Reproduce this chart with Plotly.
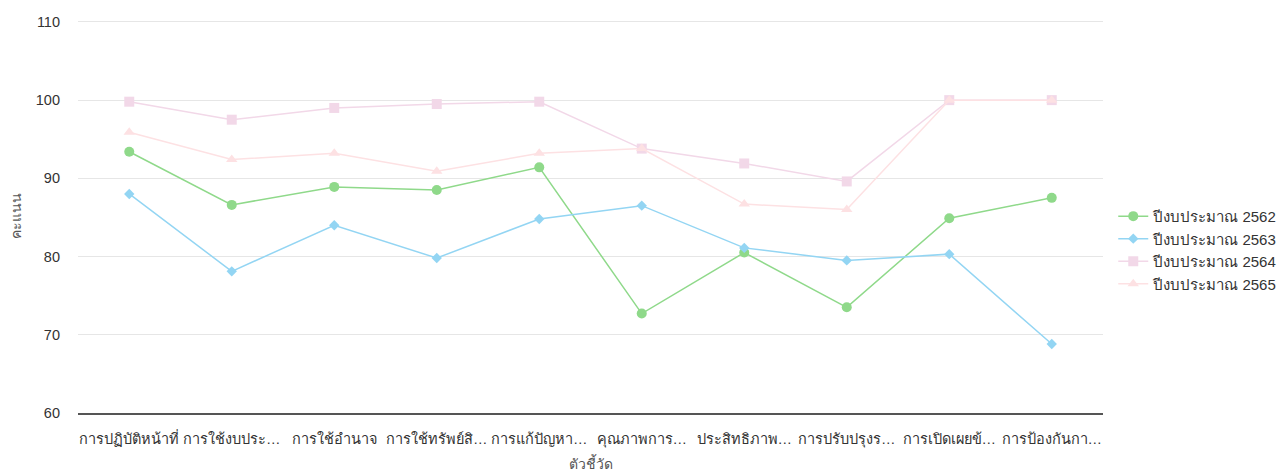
import plotly.graph_objects as go

categories = ["การปฏิบัติหน้าที่", "การใช้งบประ…", "การใช้อำนาจ", "การใช้ทรัพย์สิ…", "การแก้ปัญหา…",
              "คุณภาพการ…", "ประสิทธิภาพ…", "การปรับปรุงร…", "การเปิดเผยข้…", "การป้องกันกา…"]
s2562 = [93.4, 86.6, 88.9, 88.5, 91.4, 72.7, 80.5, 73.5, 84.9, 87.5]
s2563 = [88.0, 78.1, 84.0, 79.8, 84.8, 86.5, 81.1, 79.5, 80.3, 68.8]
s2564 = [99.8, 97.5, 99.0, 99.5, 99.8, 93.8, 91.9, 89.6, 100.0, 100.0]
s2565 = [95.9, 92.4, 93.2, 90.9, 93.2, 93.8, 86.7, 86.0, 100.0, 100.0]
series_names = ["ปีงบประมาณ 2562", "ปีงบประมาณ 2563", "ปีงบประมาณ 2564", "ปีงบประมาณ 2565"]
y_ticks = [60, 70, 80, 90, 100, 110]

styles = [
    ("#8fd98a", "circle", 10),
    ("#93d5f3", "diamond", 8),
    ("#f2d8e8", "square", 10),
    ("#fde1e3", "triangle-up", 10),
]

fig = go.Figure()
for name, vals, (col, sym, sz) in zip(series_names, [s2562, s2563, s2564, s2565], styles):
    fig.add_trace(go.Scatter(
        x=list(range(len(categories))), y=vals, name=name, mode="lines+markers",
        line=dict(color=col, width=1.5),
        marker=dict(color=col, symbol=sym, size=sz),
    ))

font_family = "Liberation Sans, Arial, sans-serif"
# page body has an 8px margin, so the figure is offset by 8px; margins compensate
fig.update_layout(
    width=1287, height=472,
    margin=dict(l=70, r=192, t=12, b=67),
    plot_bgcolor="white", paper_bgcolor="white",
    font=dict(family=font_family, size=14, color="#333333"),
    showlegend=True,
    legend=dict(x=1.01, y=0.415, xanchor="left", yanchor="middle",
                font=dict(size=15, color="#333333"), tracegroupgap=0, itemwidth=30),
    xaxis=dict(
        tickmode="array", tickvals=list(range(len(categories))), ticktext=categories,
        range=[-0.5, len(categories) - 0.5], automargin=False, tickangle=0,
        showgrid=False, showline=True, linecolor="#555555", linewidth=1.5,
        ticks="", tickfont=dict(size=14.5, color="#333333"), zeroline=False,
        ticklabelstandoff=12,
        title=dict(text="ตัวชี้วัด", font=dict(size=14, color="#555555"), standoff=12),
    ),
    yaxis=dict(
        range=[59.98, 110.25], tickvals=y_ticks, showgrid=True, gridcolor="#e6e6e6", gridwidth=1,
        zeroline=False, showline=False, ticks="", tickfont=dict(size=14.5, color="#333333"),
        ticklabelstandoff=17, automargin=False,
        title=dict(text="คะแนน", font=dict(size=14, color="#555555"), standoff=10),
    ),
)
fig.write_html("out.html")
